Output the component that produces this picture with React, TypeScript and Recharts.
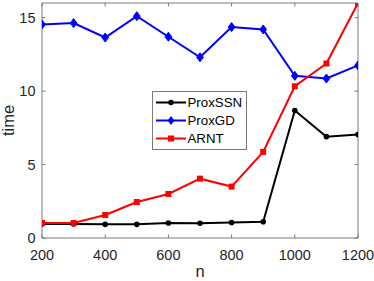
import React from 'react';
import { LineChart, Line, XAxis, YAxis, Legend, ReferenceLine } from 'recharts';

const nValues = [200, 300, 400, 500, 600, 700, 800, 900, 1000, 1100, 1200];
const proxSSN = [0.95, 0.95, 0.93, 0.93, 1.02, 1.0, 1.06, 1.11, 8.68, 6.9, 7.04];
const proxGD = [14.54, 14.63, 13.65, 15.1, 13.7, 12.3, 14.36, 14.2, 11.04, 10.86, 11.75];
const arnt = [1.02, 1.02, 1.57, 2.45, 3.0, 4.04, 3.5, 5.86, 10.33, 11.88, 16.0];
const xTicks = [200, 400, 600, 800, 1000, 1200];
const yTicks = [0, 5, 10, 15];
const seriesNames = ['ProxSSN', 'ProxGD', 'ARNT'];
const seriesColors = ['#000000', '#0000ff', '#ff0000'];

const data = nValues.map((n, i) => ({ n, ProxSSN: proxSSN[i], ProxGD: proxGD[i], ARNT: arnt[i] }));

const W = 374;
const H = 281;
const PLOT_LEFT = 42;
const PLOT_RIGHT = 358;
const PLOT_TOP = 3;
const PLOT_BOTTOM = 238;
const AXIS_COLOR = '#7a7a7a';
const FONT = '"Liberation Sans", Arial, sans-serif';

const XTick = (props: any) => {
  const { x, payload } = props;
  return (
    <g>
      <line x1={x} x2={x} y1={PLOT_BOTTOM} y2={PLOT_BOTTOM - 3.5} stroke={AXIS_COLOR} />
      <line x1={x} x2={x} y1={PLOT_TOP} y2={PLOT_TOP + 3.5} stroke={AXIS_COLOR} />
      <text x={x} y={260} textAnchor="middle" fontSize={14.5} fontFamily={FONT} fill="#262626">
        {payload.value}
      </text>
    </g>
  );
};

const YTick = (props: any) => {
  const { y, payload } = props;
  return (
    <g>
      <line x1={PLOT_LEFT} x2={PLOT_LEFT + 3.5} y1={y} y2={y} stroke={AXIS_COLOR} />
      <line x1={PLOT_RIGHT} x2={PLOT_RIGHT - 3.5} y1={y} y2={y} stroke={AXIS_COLOR} />
      <text x={35.5} y={y + 5} textAnchor="end" fontSize={14.5} fontFamily={FONT} fill="#262626">
        {payload.value}
      </text>
    </g>
  );
};

const Diamond = (props: any) => {
  const { cx, cy, stroke } = props;
  if (cx == null || cy == null) return null;
  const s = 4.5;
  return (
    <polygon
      key={`d-${cx}-${cy}`}
      points={`${cx},${cy - s} ${cx + s * 0.75},${cy} ${cx},${cy + s} ${cx - s * 0.75},${cy}`}
      fill={stroke}
      stroke={stroke}
    />
  );
};

const Square = (props: any) => {
  const { cx, cy, stroke } = props;
  if (cx == null || cy == null) return null;
  const s = 3;
  return <rect key={`s-${cx}-${cy}`} x={cx - s} y={cy - s} width={2 * s} height={2 * s} fill={stroke} stroke="none" />;
};

const Circle = (props: any) => {
  const { cx, cy, stroke } = props;
  if (cx == null || cy == null) return null;
  return <circle key={`c-${cx}-${cy}`} cx={cx} cy={cy} r={2.8} fill={stroke} />;
};

const LegendMarker = ({ idx, cx, cy }: { idx: number; cx: number; cy: number }) => {
  const c = seriesColors[idx];
  if (idx === 0) return <circle cx={cx} cy={cy} r={2.8} fill={c} />;
  if (idx === 1) {
    const s = 4.5;
    return <polygon points={`${cx},${cy - s} ${cx + s * 0.75},${cy} ${cx},${cy + s} ${cx - s * 0.75},${cy}`} fill={c} />;
  }
  return <rect x={cx - 3} y={cy - 3} width={6} height={6} fill={c} />;
};

const LegendContent = () => (
  <div
    style={{
      width: 93,
      height: 57,
      border: `1px solid ${AXIS_COLOR}`,
      background: '#fff',
      position: 'relative',
    }}
  >
    <svg width={93} height={57} style={{ position: 'absolute', left: 0, top: 0 }}>
      {seriesNames.map((name, i) => {
        const cy = 10.5 + i * 18;
        return (
          <g key={name}>
            <line x1={3} x2={33} y1={cy} y2={cy} stroke={seriesColors[i]} strokeWidth={2} />
            <LegendMarker idx={i} cx={18} cy={cy} />
            <text x={34.5} y={cy + 4.8} fontSize={13.3} fontFamily={FONT} fill="#000">
              {name}
            </text>
          </g>
        );
      })}
    </svg>
  </div>
);

export default function App() {
  return (
    <div style={{ position: 'absolute', left: 0, top: 0, width: W, height: H, background: '#fff' }}>
      <LineChart
        width={W}
        height={H}
        data={data}
        margin={{ top: PLOT_TOP, right: W - PLOT_RIGHT, bottom: 0, left: 0 }}
      >
        <XAxis
          dataKey="n"
          type="number"
          domain={[200, 1200]}
          ticks={xTicks}
          height={H - PLOT_BOTTOM - PLOT_TOP + 3}
          tick={<XTick />}
          tickLine={false}
          axisLine={{ stroke: AXIS_COLOR }}
          allowDataOverflow
          label={{ value: 'n', position: 'insideBottom', offset: 4, fontSize: 16.5, fontFamily: FONT, fill: '#262626' }}
        />
        <YAxis
          type="number"
          domain={[0, 16]}
          ticks={yTicks}
          width={PLOT_LEFT}
          tick={<YTick />}
          tickLine={false}
          axisLine={{ stroke: AXIS_COLOR }}
          allowDataOverflow
          label={{ value: 'time', angle: -90, position: 'insideLeft', offset: 8, fontSize: 16.5, fontFamily: FONT, fill: '#262626', style: { textAnchor: 'middle' } }}
        />
        <ReferenceLine y={16} stroke={AXIS_COLOR} ifOverflow="extendDomain" />
        <ReferenceLine x={1200} stroke={AXIS_COLOR} ifOverflow="extendDomain" />
        <Line dataKey="ProxSSN" stroke={seriesColors[0]} strokeWidth={2} dot={<Circle />} isAnimationActive={false} />
        <Line dataKey="ProxGD" stroke={seriesColors[1]} strokeWidth={2} dot={<Diamond />} isAnimationActive={false} />
        <Line dataKey="ARNT" stroke={seriesColors[2]} strokeWidth={2} dot={<Square />} isAnimationActive={false} />
        <Legend
          layout="vertical"
          align="center"
          verticalAlign="middle"
          content={<LegendContent />}
          wrapperStyle={{ position: 'absolute', left: 152, top: 91, width: 95, height: 59 }}
        />
      </LineChart>
    </div>
  );
}
